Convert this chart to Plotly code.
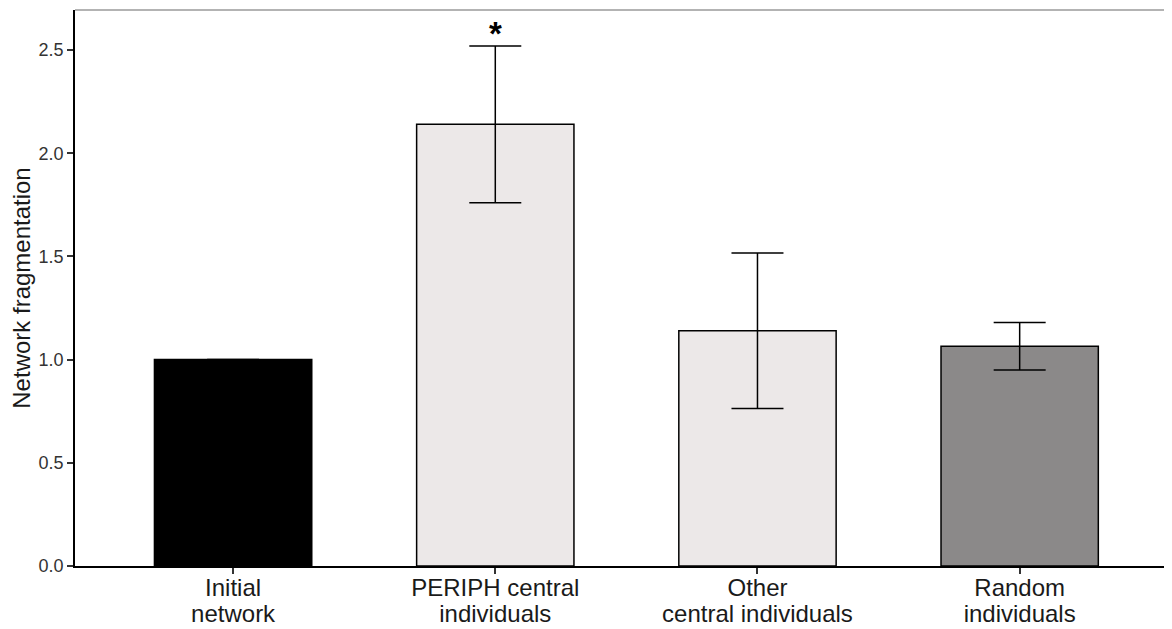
import plotly.graph_objects as go

# category labels, split in two lines (ggplot-style tight line spacing)
label_line1 = ["Initial", "PERIPH central", "Other", "Random"]
label_line2 = ["network", "individuals", "central individuals", "individuals"]
means = [1.0, 2.14, 1.14, 1.065]
errors = [0, 0.38, 0.377, 0.115]
bar_colors = ["#000000", "#ECE8E8", "#ECE8E8", "#8B8989"]
y_ticks = [0.0, 0.5, 1.0, 1.5, 2.0, 2.5]
signif = ["", "*", "", ""]

x_pos = list(range(len(label_line1)))

fig = go.Figure()

fig.add_trace(go.Bar(
    x=x_pos,
    y=means,
    width=0.6,
    marker=dict(color=bar_colors, line=dict(color="#000000", width=1.5)),
    error_y=dict(type="data", array=errors, visible=True,
                 color="#000000", thickness=1.5, width=26),
    showlegend=False
))

# invisible trace so the second-line label axis gets drawn
fig.add_trace(go.Scatter(x=x_pos, y=means, xaxis="x2", mode="none",
                         hoverinfo="skip", showlegend=False))

# significance marks above the error bars
for xp, m, e, s in zip(x_pos, means, errors, signif):
    if s:
        fig.add_annotation(x=xp, y=m + e, text="<b>" + s + "</b>", showarrow=False,
                           yanchor="bottom", yshift=-8,
                           font=dict(size=33, color="#000000", family="Liberation Sans"))

fig.add_shape(type="line", xref="paper", yref="paper", x0=0, x1=1, y0=1, y1=1,
              line=dict(color="#9A9A9A", width=1.5))

xrange = [-0.603, 3.581]

# page body has an 8px margin, so the figure is sized/offset to land where the reference is
fig.update_layout(
    width=1164,
    height=621,
    margin=dict(l=67, r=0, t=2, b=63),
    paper_bgcolor="white",
    plot_bgcolor="white",
    font=dict(family="Liberation Sans", color="#222222"),
    xaxis=dict(
        range=xrange,
        tickvals=x_pos, ticktext=label_line1,
        showline=True, linecolor="#000000", linewidth=1.5,
        ticks="outside", ticklen=6, tickcolor="#333333", tickwidth=1.5,
        ticklabelstandoff=-7,
        tickfont=dict(size=24, color="#1a1a1a"),
        showgrid=False, zeroline=False, automargin=False
    ),
    xaxis2=dict(
        range=xrange, overlaying="x", anchor="y", side="bottom",
        tickvals=x_pos, ticktext=label_line2,
        showline=False, ticks="outside", ticklen=6, tickcolor="rgba(0,0,0,0)",
        ticklabelstandoff=20,
        tickfont=dict(size=24, color="#1a1a1a"),
        showgrid=False, zeroline=False, automargin=False
    ),
    yaxis=dict(
        range=[0, 2.694],
        tickvals=y_ticks,
        ticktext=[f"{v:.1f}" for v in y_ticks],
        showline=True, linecolor="#000000", linewidth=1.5,
        ticks="outside", ticklen=6, tickcolor="#333333", tickwidth=1.5,
        tickfont=dict(size=18, color="#333333"),
        title=dict(text="Network fragmentation", font=dict(size=24, color="#1a1a1a"), standoff=3),
        showgrid=False, zeroline=False, automargin=False
    )
)

fig.write_html("out.html")
